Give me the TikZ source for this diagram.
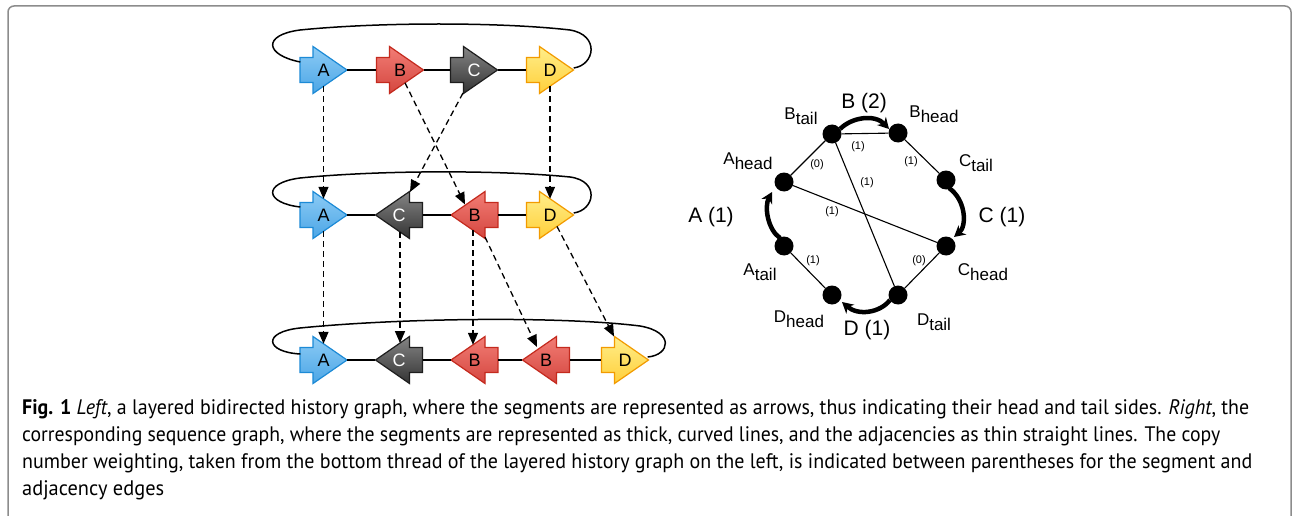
\documentclass[tikz,border=0pt]{standalone}
\usepackage{fontspec}
\usepackage{graphicx}
\setmainfont{Liberation Sans}
\newfontfamily\capfont{PT Sans}
\usetikzlibrary{arrows.meta,calc}
\definecolor{aT}{HTML}{8CCBF5}\definecolor{aB}{HTML}{4CA6E6}\definecolor{aL}{HTML}{1C8AD6}
\definecolor{bT}{HTML}{F27D75}\definecolor{bB}{HTML}{D4463F}\definecolor{bL}{HTML}{C42A1E}
\definecolor{cT}{HTML}{858585}\definecolor{cB}{HTML}{333333}\definecolor{cL}{HTML}{1E1E1E}
\definecolor{dT}{HTML}{FFEE8A}\definecolor{dB}{HTML}{FFCF3A}\definecolor{dL}{HTML}{F29B00}
\definecolor{framegray}{HTML}{8C8C8C}
\tikzset{
 segbox/.style={draw=none, inner sep=0pt, minimum width=47pt, minimum height=47pt, font=\fontsize{18}{18}\selectfont},
 segshape/.style={line width=1.2pt},
 link/.style={line width=1.5pt},
 dasharrow/.style={line width=1.3pt, dash pattern=on 6pt off 4pt, -{Triangle[length=12pt,width=10pt]}},
 vert/.style={circle, fill=black, inner sep=0pt, minimum size=19pt},
 adj/.style={line width=1.1pt},
 segedge/.style={line width=4.5pt, -{Stealth[length=11pt,width=12pt]}},
 wt/.style={font=\fontsize{11}{11}\selectfont, inner sep=0pt},
 big/.style={font=\fontsize{21}{21}\selectfont, inner sep=0pt},
 vlab/.style={font=\fontsize{17}{17}\selectfont, inner sep=0pt},
 capline/.style={anchor=base west, inner sep=0pt, font=\capfont\fontsize{21}{25}\selectfont},
}
\newcommand\segR[6]{%
 \draw[segshape, draw=#4L, top color=#4T, bottom color=#4B] (#2-23.5,#3-12.5) -- (#2-10.5,#3-12.5) -- (#2-10.5,#3-23.5) -- (#2+23.5,#3) -- (#2-10.5,#3+23.5) -- (#2-10.5,#3+12.5) -- (#2-23.5,#3+12.5) -- cycle;
 \node[segbox, text=#5] (#1) at (#2,#3) {#6};}
\newcommand\segL[6]{%
 \draw[segshape, draw=#4L, top color=#4T, bottom color=#4B] (#2+23.5,#3-12.5) -- (#2+10.5,#3-12.5) -- (#2+10.5,#3-23.5) -- (#2-23.5,#3) -- (#2+10.5,#3+23.5) -- (#2+10.5,#3+12.5) -- (#2+23.5,#3+12.5) -- cycle;
 \node[segbox, text=#5] (#1) at (#2,#3) {#6};}
\begin{document}
\begin{tikzpicture}[x=1pt,y=-1pt]
\useasboundingbox (0,0) rectangle (1292,516);
\clip (0,0) rectangle (1292,516);
\fill[white] (0,0) rectangle (1292,516);
\draw[framegray, line width=1.5pt, rounded corners=6pt] (8,6) rectangle (1291,560);

% ---------- left: layered history graph ----------
% top row
\segR{tA}{323.5}{70}{a}{black}{A}
\segR{tB}{400}{70}{b}{black}{B}
\segR{tC}{474}{70}{c}{white}{C}
\segR{tD}{550}{70}{d}{black}{D}
% middle row
\segR{mA}{323.5}{215}{a}{black}{A}
\segL{mC}{399}{215}{c}{white}{C}
\segL{mB}{474.5}{215}{b}{black}{B}
\segR{mD}{550}{215}{d}{black}{D}
% bottom row
\segR{bA}{323.5}{360}{a}{black}{A}
\segL{bC}{399}{360}{c}{white}{C}
\segL{bB}{474.5}{360}{b}{black}{B}
\segL{bBb}{546}{360}{b}{black}{B}
\segR{bD}{625}{360}{d}{black}{D}

% links
\draw[link] (tA.east) -- (tB.west);
\draw[link] (tB.east) -- (tC.west);
\draw[link] (tC.east) -- (tD.west);
\draw[link] (mA.east) -- (mC.west);
\draw[link] (mC.east) -- (mB.west);
\draw[link] (mB.east) -- (mD.west);
\draw[link] (bA.east) -- (bC.west);
\draw[link] (bC.east) -- (bB.west);
\draw[link] (bB.east) -- (bBb.west);
\draw[link] (bBb.east) -- (bD.west);

% loops
\draw[link] ($(tA.west)+(0.5,-8)$) .. controls (265,55) and (262,35) .. (300,30)
  .. controls (380,22) and (500,22) .. (570,30) .. controls (600,35) and (595,65) .. ($(tD.east)+(0,-2)$);
\draw[link] ($(mA.west)+(0.5,-8)$) .. controls (265,203) and (262,183) .. (300,178)
  .. controls (380,170) and (500,170) .. (570,177) .. controls (600,181) and (595,210) .. ($(mD.east)+(0,-2)$);
\draw[link] ($(bA.west)+(0.5,-6)$) .. controls (265,352) and (262,332) .. (300,328)
  .. controls (400,318) and (560,316) .. (640,326) .. controls (675,332) and (670,355) .. ($(bD.east)+(-1,-3)$);

% dashed ancestry arrows
\draw[dasharrow] ($(tA.center)+(0,16.2)$) -- ($(mA.center)+(0,-16.2)$);
\draw[dasharrow] ($(tB.center)+(5,12.8)$) -- ($(mB.center)+(-9.5,-10.5)$);
\draw[dasharrow] ($(tC.center)+(-11,23)$) -- ($(mC.center)+(11,-23)$);
\draw[dasharrow] ($(tD.center)+(0,16.2)$) -- ($(mD.center)+(0,-16.2)$);
\draw[dasharrow] ($(mA.center)+(0,16.2)$) -- ($(bA.center)+(0,-16.2)$);
\draw[dasharrow] ($(mC.center)+(1,16.9)$) -- ($(bC.center)+(1,-16.9)$);
\draw[dasharrow] ($(mB.center)+(-1.5,15.2)$) -- ($(bB.center)+(-1.5,-15.2)$);
\draw[dasharrow] ($(mB.center)+(10.5,22)$) -- ($(bBb.center)+(-9,-13)$);
\draw[dasharrow] ($(mD.center)+(7,11.4)$) -- ($(bD.center)+(-11,-23.5)$);

% ---------- right: sequence graph ----------
\node[vert] (Ah) at (784,182) {};
\node[vert] (Bt) at (832,134) {};
\node[vert] (Bh) at (898,133) {};
\node[vert] (Ct) at (946,180) {};
\node[vert] (Ch) at (946,246) {};
\node[vert] (Dt) at (898,295) {};
\node[vert] (Dh) at (832,295) {};
\node[vert] (At) at (784,246) {};

\draw[adj] (Bt) -- (Bh);
\draw[adj] (Ah) -- (Bt);
\draw[adj] (Bh) -- (Ct);
\draw[adj] (Bt) -- (Dt);
\draw[adj] (Ah) -- (Ch);
\draw[adj] (At) -- (Dh);
\draw[adj] (Ch) -- (Dt);

\node[wt] (w1) at (858,147) {(1)};
\node[wt] (w2) at (817,165) {(0)};
\node[wt] (w3) at (911,162) {(1)};
\node[wt] (w4) at (867,183) {(1)};
\node[wt] (w5) at (832,212) {(1)};
\node[wt] (w6) at (813,261) {(1)};
\node[wt] (w7) at (919,261) {(0)};

\draw[segedge] ($(Bt.center)+(8,-5)$) .. controls (852,117) and (875,114) .. ($(Bh.center)+(-9,-4)$);
\draw[segedge] ($(Ct.center)+(3,8)$) .. controls (966,200) and (967,226) .. ($(Ch.center)+(8,-9)$);
\draw[segedge] ($(At.center)+(-4,-8)$) .. controls (768,230) and (764,207) .. ($(Ah.center)+(-12,10)$);
\draw[segedge] ($(Dt.center)+(-8,5)$) .. controls (880,313) and (858,316) .. ($(Dh.center)+(10,7)$);

\node[big] (lB) at (864,103) {B (2)};
\node[big] (lC) at (1002,217) {C (1)};
\node[big] (lA) at (711,217) {A (1)};
\node[big] (lD) at (867,330) {D (1)};

\node[vlab] (nBt) at (801,116) {B\raisebox{-5pt}{tail}};
\node[vlab] (nBh) at (934,114) {B\raisebox{-5pt}{head}};
\node[vlab] (nAh) at (748,161) {A\raisebox{-5pt}{head}};
\node[vlab] (nCt) at (976,163) {C\raisebox{-5pt}{tail}};
\node[vlab] (nAt) at (760,272) {A\raisebox{-5pt}{tail}};
\node[vlab] (nCh) at (983,272) {C\raisebox{-5pt}{head}};
\node[vlab] (nDh) at (799,319) {D\raisebox{-5pt}{head}};
\node[vlab] (nDt) at (934,322) {D\raisebox{-5pt}{tail}};

% ---------- caption ----------
\node[capline] (cap1) at (22,414) {\resizebox{1227pt}{\height}{\textbf{Fig. 1} \textit{Left}, a layered bidirected history graph, where the segments are represented as arrows, thus indicating their head and tail sides. \textit{Right}, the}};
\node[capline] (cap2) at (22,441) {\resizebox{1198pt}{\height}{corresponding sequence graph, where the segments are represented as thick, curved lines, and the adjacencies as thin straight lines. The copy}};
\node[capline] (cap3) at (22,468) {\resizebox{1230pt}{\height}{number weighting, taken from the bottom thread of the layered history graph on the left, is indicated between parentheses for the segment and}};
\node[capline] (cap4) at (22,495) {\resizebox{142pt}{\height}{adjacency edges}};
\end{tikzpicture}
\end{document}
